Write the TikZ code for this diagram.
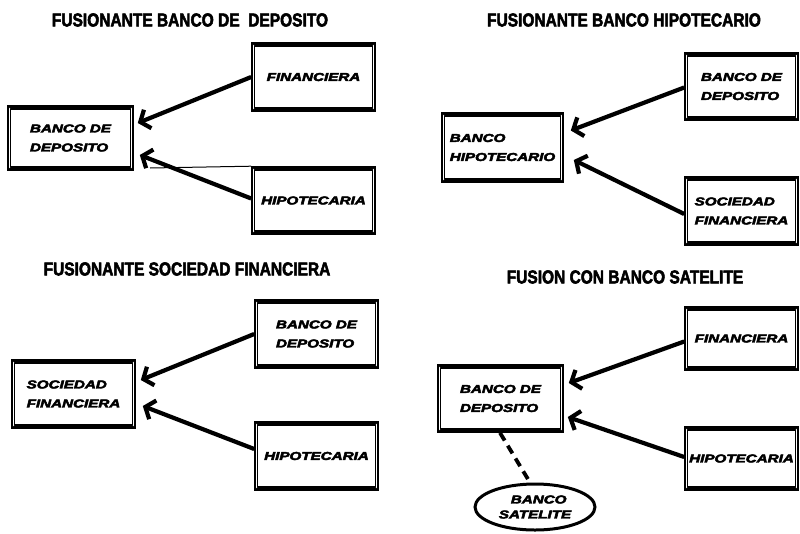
\documentclass[tikz,border=0pt]{standalone}
\usepackage{fontspec}
\usepackage{graphicx}
\setmainfont{Liberation Sans}
% heavy faces for titles and box labels
\newfontfamily\heavyup[FakeBold=3]{Liberation Sans Bold}
\newfontfamily\heavyit[FakeBold=3.5]{Liberation Sans Bold Italic}
\usetikzlibrary{arrows.meta,shapes.geometric}

% bold italic label, stretched sideways
\newcommand\xw[1]{\scalebox{1.32}[1]{#1}}
% title text, stretched upwards
\newcommand\yw[1]{\scalebox{1}[1.2]{#1}}

% heavy bevelled frame around a named box node
\newcommand\bevelframe[1]{%
  \fill (#1.north west) -- (#1.north east) -- ([shift={(-3.5,4)}]#1.north east)
        -- ([shift={(3.5,4)}]#1.north west) -- cycle;
  \fill (#1.south west) -- (#1.south east) -- ([shift={(-3.5,-4)}]#1.south east)
        -- ([shift={(3.5,-4)}]#1.south west) -- cycle;
  \draw[line width=0.8pt] ([shift={(3.5,4)}]#1.north west) rectangle ([shift={(-3.5,-4)}]#1.south east);
}

\tikzset{
  box/.style={draw, line width=1.6pt, inner sep=0pt, align=left,
    font=\fontsize{11.5}{19}\heavyit},
  ttl/.style={font=\fontsize{15.5}{18}\heavyup},
  arr/.style={line width=4.2pt, -{Straight Barb[length=8pt,width=20pt]}},
  thinline/.style={line width=1pt},
  dashlink/.style={line width=3.8pt, dash pattern=on 9pt off 6pt},
  oval/.style={ellipse, draw, line width=3pt, inner sep=0pt,
    font=\fontsize{11.5}{15}\heavyit, align=left},
}

\begin{document}
\begin{tikzpicture}[x=1pt, y=-1pt]
\useasboundingbox[fill=white] (0,0) rectangle (800,533);

% ---------- Fusionante banco de deposito ----------
\node[ttl] (t1) at (190,20) {\yw{FUSIONANTE BANCO DE \ DEPOSITO}};
\node[box, minimum width=125, minimum height=64] (bd1) at (70.5,138)
  {\xw{BANCO DE}\\\xw{DEPOSITO}};
\node[box, minimum width=123, minimum height=68] (fin1) at (313.5,77)
  {\xw{FINANCIERA}};
\node[box, minimum width=123, minimum height=67] (hip1) at (313.5,200.5)
  {\xw{HIPOTECARIA}};
\draw[arr] (fin1.west) -- ([shift={(4,-15)}]bd1.east);
\draw[arr] ([yshift=2]hip1.west) -- ([shift={(6,17)}]bd1.east);
\coordinate (h1) at (150,168);
\draw[thinline] (h1) -- (hip1.north west);

% ---------- Fusionante banco hipotecario ----------
\node[ttl] (t2) at (624,20) {\yw{FUSIONANTE BANCO HIPOTECARIO}};
\node[box, minimum width=121, minimum height=69] (bh2) at (502.5,147.5)
  {\xw{BANCO}\\\xw{HIPOTECARIO}};
\node[box, minimum width=113, minimum height=67] (bd2) at (741.5,86.5)
  {\xw{BANCO DE}\\\xw{DEPOSITO}};
\node[box, minimum width=113, minimum height=68] (sf2) at (741.5,211)
  {\xw{SOCIEDAD}\\\xw{FINANCIERA}};
\draw[arr] ([yshift=-1]bd2.west) -- ([shift={(7,-17)}]bh2.east);
\draw[arr] ([yshift=-3]sf2.west) -- ([shift={(10,12.5)}]bh2.east);

% ---------- Fusionante sociedad financiera ----------
\node[ttl] (t3) at (187,269) {\yw{FUSIONANTE SOCIEDAD FINANCIERA}};
\node[box, minimum width=123, minimum height=68] (sf3) at (73.5,394)
  {\xw{SOCIEDAD}\\\xw{FINANCIERA}};
\node[box, minimum width=123, minimum height=68] (bd3) at (316.5,334)
  {\xw{BANCO DE}\\\xw{DEPOSITO}};
\node[box, minimum width=123, minimum height=68] (hip3) at (316.5,456)
  {\xw{HIPOTECARIA}};
\draw[arr] (bd3.west) -- ([shift={(5,-14)}]sf3.east);
\draw[arr] ([yshift=7]hip3.west) -- ([shift={(7,12)}]sf3.east);

% ---------- Fusion con banco satelite ----------
\node[ttl] (t4) at (625,277) {\yw{FUSION CON BANCO SATELITE}};
\node[box, minimum width=125, minimum height=67] (bd4) at (500.5,398.5)
  {\xw{BANCO DE}\\\xw{DEPOSITO}};
\node[box, minimum width=113, minimum height=63] (fin4) at (741.5,338.5)
  {\xw{FINANCIERA}};
\node[box, minimum width=113, minimum height=63] (hip4) at (741.5,458.5)
  {\xw{HIPOTECARIA}};
\node[oval, minimum width=120, minimum height=46] (sat) at (535,507)
  {\hspace*{12pt}\xw{BANCO}\\\xw{SATELITE}};
\draw[arr] ([yshift=-3]fin4.west) -- ([shift={(5,-15.5)}]bd4.east);
\draw[arr] ([yshift=1.5]hip4.west) -- ([shift={(4,18.5)}]bd4.east);
\draw[dashlink] ([xshift=-0.5]bd4.south) -- ([xshift=-5]sat.north);

\foreach \b in {bd1,fin1,hip1,bh2,bd2,sf2,sf3,bd3,hip3,bd4,fin4,hip4}
  {\bevelframe{\b}}
\end{tikzpicture}
\end{document}
